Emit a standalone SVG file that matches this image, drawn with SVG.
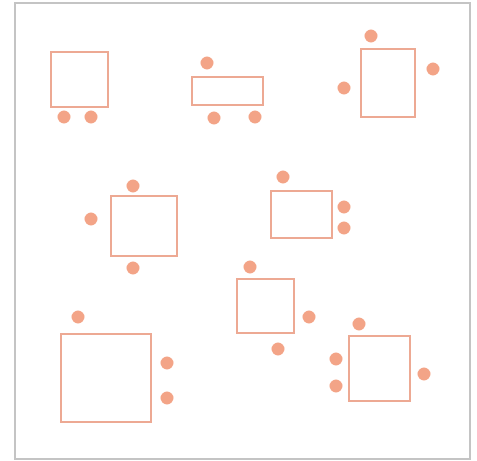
<svg xmlns="http://www.w3.org/2000/svg" width="477" height="461" viewBox="0 0 477 461">
<style>
.frame{fill:#fff;stroke:#c4c4c4;stroke-width:2}
.box{fill:#fff;stroke:#eda993;stroke-width:2}
.dot{fill:#f3a487}
</style>
<rect x="0" y="0" width="477" height="461" fill="#fff"/>
<rect class="frame" x="15" y="3" width="455" height="456"/>
<g id="t1"><rect class="box" x="51" y="52" width="57" height="55"/><circle class="dot" cx="64" cy="117" r="6.5"/><circle class="dot" cx="91" cy="117" r="6.5"/></g>
<g id="t2"><rect class="box" x="192" y="77" width="71" height="28"/><circle class="dot" cx="207" cy="63" r="6.5"/><circle class="dot" cx="214" cy="118" r="6.5"/><circle class="dot" cx="255" cy="117" r="6.5"/></g>
<g id="t3"><rect class="box" x="361" y="49" width="54" height="68"/><circle class="dot" cx="371" cy="36" r="6.5"/><circle class="dot" cx="433" cy="69" r="6.5"/><circle class="dot" cx="344" cy="88" r="6.5"/></g>
<g id="t4"><rect class="box" x="111" y="196" width="66" height="60"/><circle class="dot" cx="133" cy="186" r="6.5"/><circle class="dot" cx="91" cy="219" r="6.5"/><circle class="dot" cx="133" cy="268" r="6.5"/></g>
<g id="t5"><rect class="box" x="271" y="191" width="61" height="47"/><circle class="dot" cx="283" cy="177" r="6.5"/><circle class="dot" cx="344" cy="207" r="6.5"/><circle class="dot" cx="344" cy="228" r="6.5"/></g>
<g id="t6"><rect class="box" x="237" y="279" width="57" height="54"/><circle class="dot" cx="250" cy="267" r="6.5"/><circle class="dot" cx="309" cy="317" r="6.5"/><circle class="dot" cx="278" cy="349" r="6.5"/></g>
<g id="t7"><rect class="box" x="61" y="334" width="90" height="88"/><circle class="dot" cx="78" cy="317" r="6.5"/><circle class="dot" cx="167" cy="363" r="6.5"/><circle class="dot" cx="167" cy="398" r="6.5"/></g>
<g id="t8"><rect class="box" x="349" y="336" width="61" height="65"/><circle class="dot" cx="359" cy="324" r="6.5"/><circle class="dot" cx="336" cy="359" r="6.5"/><circle class="dot" cx="336" cy="386" r="6.5"/><circle class="dot" cx="424" cy="374" r="6.5"/></g>
<g id="connectors"/>
</svg>
